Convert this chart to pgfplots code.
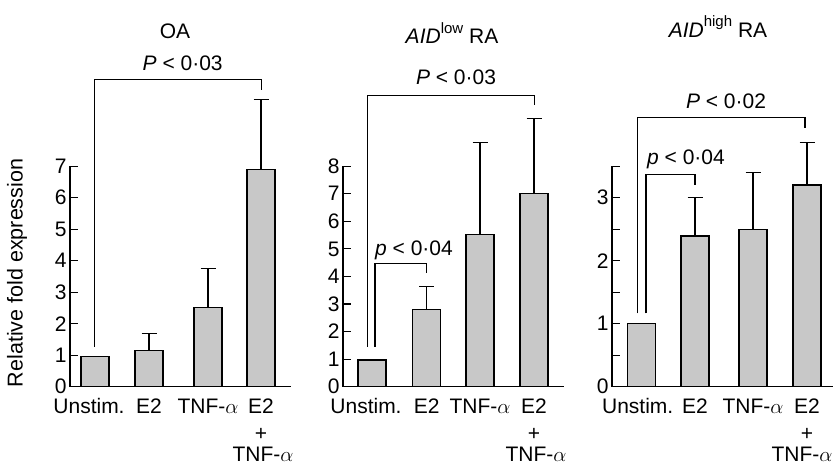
\documentclass[border=0pt]{standalone}
\usepackage{fontspec}
\setmainfont{Liberation Sans}
\usepackage{pgfplots}
\pgfplotsset{compat=1.18}

\definecolor{barfill}{HTML}{C8C8C8}
\newcommand{\lbl}{\fontsize{21}{25}\selectfont}
\newcommand{\sups}[1]{\raisebox{0.5em}{\fontsize{15}{16}\selectfont #1}}

\tikzset{sub/.style={font=\lbl, inner sep=0pt}}

\pgfplotsset{
  panel/.style={
    scale only axis, width=221pt, height=220.5pt,
    anchor=south west,
    axis x line*=bottom, axis y line*=left,
    xmin=0, xmax=221, ymin=0,
    clip=false,
    tick align=inside,
    major tick length=8pt, minor tick length=8pt,
    axis line style={line width=1.1pt, black},
    ytick style={line width=1.1pt, black},
    xtick style={draw=none},
    tick label style={font=\lbl},
    xticklabel style={anchor=base, yshift=-26.5pt, inner sep=0pt},
    /pgf/number format/assume math mode=true,
  },
  bars/.style={
    ybar, bar width=28pt, fill=barfill, draw=black, line width=1.3pt,
  },
  errs/.style={
    bars,
    error bars/.cd, y dir=plus, y explicit,
    error bar style={line width=1.1pt, black},
    error mark options={rotate=90, black, mark size=7.5pt, line width=1.1pt},
  },
  bracket/.style={black, line width=1.1pt, forget plot},
}

\begin{document}
\begin{tikzpicture}
\useasboundingbox (0,0) rectangle (835pt,465pt);

% ---- OA
\begin{axis}[panel, at={(70pt,78.3pt)}, ymax=7, ytick={0,1,...,7},
  xtick={19,79,138,191}, xticklabels={Unstim.,E2,TNF-$\alpha$,E2}]
\addplot[bars] coordinates {(25,0.95)};
\addplot[errs] coordinates {
  (79,1.14) +- (0,0.55)
  (138,2.51) +- (0,1.25)
  (191,6.90) +- (0,2.22)};
\addplot[bracket] coordinates {(24.3,1.27) (24.3,9.74) (191.7,9.74) (191.7,9.42)};
\node[font=\lbl, anchor=base] at (axis cs:112.7,10.05) {\textit{P} < 0·03};
\node[font=\lbl, anchor=base] at (axis cs:105,11.06) {OA};
\node[sub, anchor=center, yshift=-48pt] at (axis cs:191,0) {+};
\node[sub, anchor=base, yshift=-75pt] at (axis cs:193,0) {TNF-$\alpha$};
\node[font=\fontsize{21.5}{25}\selectfont, rotate=90, anchor=center]
  at (axis description cs:-0.24,0.516) {Relative fold expression};
\end{axis}

% ---- AID low RA
\begin{axis}[panel, at={(343pt,78.3pt)}, ymax=8, ytick={0,1,...,8},
  xtick={23,83.7,137,191}, xticklabels={Unstim.,E2,TNF-$\alpha$,E2}]
\addplot[bars] coordinates {(29,0.97)};
\addplot[errs] coordinates {
  (83.7,2.80) +- (0,0.85)
  (137,5.53) +- (0,3.32)
  (191,7.02) +- (0,2.70)};
\addplot[bracket] coordinates {(24.7,1.45) (24.7,10.57) (191.3,10.57) (191.3,10.21)};
\addplot[bracket] coordinates {(32,1.45) (32,4.47) (83.7,4.47) (83.7,4.11)};
\node[font=\lbl, anchor=base] at (axis cs:113,10.98) {\textit{P} < 0·03};
\node[font=\lbl, anchor=base] at (axis cs:71,4.77) {\textit{p} < 0·04};
\node[font=\lbl, anchor=base] at (axis cs:109,12.45) {\textit{AID}\sups{low} RA};
\node[sub, anchor=center, yshift=-48pt] at (axis cs:191,0) {+};
\node[sub, anchor=base, yshift=-75pt] at (axis cs:193,0) {TNF-$\alpha$};
\end{axis}

% ---- AID high RA
\begin{axis}[panel, at={(612pt,78.3pt)}, ymax=3.5, ytick={0,1,2,3},
  minor ytick={0.5,1.5,2.5,3.5},
  xtick={25.7,83,141,195}, xticklabels={Unstim.,E2,TNF-$\alpha$,E2}]
\addplot[bars] coordinates {(29.7,1.00)};
\addplot[errs] coordinates {
  (83,2.39) +- (0,0.61)
  (141,2.49) +- (0,0.91)
  (195,3.20) +- (0,0.68)};
\addplot[bracket] coordinates {(25.7,1.165) (25.7,4.27) (193,4.27) (193,4.10)};
\addplot[bracket] coordinates {(34,1.165) (34,3.37) (83,3.37) (83,3.20)};
\node[font=\lbl, anchor=base] at (axis cs:114,4.42) {\textit{P} < 0·02};
\node[font=\lbl, anchor=base] at (axis cs:74,3.52) {\textit{p} < 0·04};
\node[font=\lbl, anchor=base] at (axis cs:106,5.55) {\textit{AID}\sups{high} RA};
\node[sub, anchor=center, yshift=-48pt] at (axis cs:195,0) {+};
\node[sub, anchor=base, yshift=-75pt] at (axis cs:190,0) {TNF-$\alpha$};
\end{axis}
\end{tikzpicture}
\end{document}
